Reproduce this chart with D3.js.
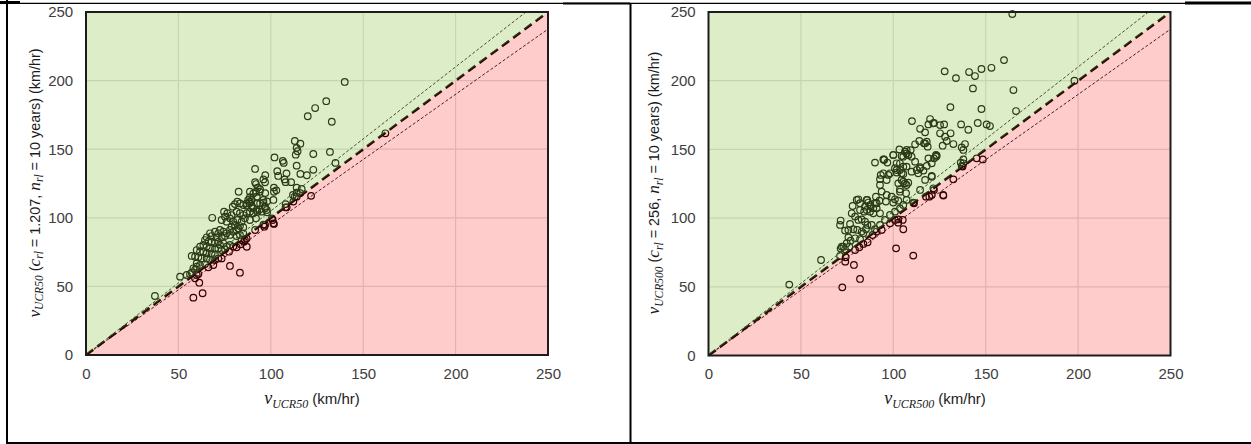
<!DOCTYPE html>
<html><head><meta charset="utf-8">
<script src="https://cdn.jsdelivr.net/npm/d3@7"></script>
<style>body{margin:0;background:#fff}svg{display:block}</style>
</head><body>
<script>
// ---------- DATA ----------
const tickValues = [0, 50, 100, 150, 200, 250];
const gridValues = [50, 100, 150, 200];
const ratioLines = [1.05, 0.95];

// Panel A: x = v_UCR50 (km/hr), y = v_UCR50 (c_rl = 1.207, n_rl = 10 years)
const panelA_points = [
[140,199],[130,185],[124,180],[120,174],[133,170],[113,156],[116,154],[114,151],[114.5,148.5],[113.5,146],[123,146.5],[132,148],[102,144],[106.5,141.5],[107,140],[114,138],[123,135],[135,140],[162,161.6],
[91.5,135.6],[97,131],[96,128],[103.5,134],[104,130.5],[108.5,132.4],[107.5,128],[108,126],[111,126],[116,132],[119.5,131],[114,122],[112,116.6],[114,118.3],[116.7,121],[113,115.4],[121.8,116],[116,118],
[91.5,126],[93,122],[92,119],[88.7,119],[94,119],[82.6,119],[101.7,122],[101.7,119],[103,120],[101.4,113],[108,110],[108,107.6],[97,118],[96,113],[98,112],[97,107],[98,104],[88.7,115],[88.4,110.6],[89.7,113],[87,109],[90.5,107],[94,106],[92.7,104.4],[92,99.6],[100.6,99.6],[101.4,96],[96,95],[96.5,93.5],[68.3,100],
[96.9,125.9],[92,124.6],[94.2,120.8],[90.6,117.8],[92.4,115.4],[80.6,110],[79.4,108.1],[81.9,111.8],[83.3,110.5],[85.1,109.3],[87.8,113],[86.9,110.5],[88.7,111.8],[89.7,108.6],[92.4,110.5],[94.2,110.5],[96,111],[96.9,108.1],[97.8,105.7],[95.1,104.5],[74.7,104.5],[76.5,103.3],[75.2,100.8],[78.8,102],[81.5,104.5],[83.3,103.3],[85.1,102],[86.9,103.3],[88.7,104.5],[90.6,103.3],[92.4,105.7],[73.4,98.4],[76.1,97.2],[77.9,99.6],[79.7,97.2],[81.9,98.4],[84.2,97.2],[86,99.6],[88.7,98.4],[78.8,93.5],[80.6,94.8],[82.4,92.3],[83.3,94],[85.1,93.1],[81.5,91.1],[77.9,91.1],[69.8,89.9],[71.6,88.7],[72.5,91.1],[74.3,89.9],[76.1,88.7],[77.9,87.5],[79.7,89.9],[73.4,85.8],[75.2,86.7],[70.7,85.8],[68,86.7],[65.3,85.8],[67.1,88.7],[81.5,86.7],[83.3,87.5],[85.1,88.7],[86.9,85],[86,83.8],[84.2,83.8],[64.4,83.8],[66.2,82.6],[68,82.6],[69.8,81.4],[71.6,82.6],[72.5,80.2],[74.3,81.4],[76.1,79],[77.9,80.2],[63.5,80.2],[61.7,79],[65.3,79],[67.1,77.7],[69.8,77.7],[71.6,77.7],[73.4,76.5],[75.2,77],[79.7,79],[81.5,78.5],[59.9,76.5],[61.7,75.3],[63.5,75.3],[65.3,74.1],[68,74.1],[69.8,72.9],[57.2,72.2],[59,71.7],[60.8,71.2],[62.6,70.4],[65.3,70.4],[67.1,69.2],[69.8,69.2],[59.9,66.8],[61.7,65.6],[64.4,66.3],[71.6,70.4],[58.1,63.2],[59.9,64.4],[57.2,60],[59,62],[54.5,58.3],[56.3,59],
[77.4,75.3],[73.4,70.4],[68.9,65.6],[66.2,63.9],[59.9,58.3],[77.9,64.9],[83.3,60],[58.1,41.8],[63.1,45],[61.3,52.7],[59,55.9],[60.8,59],[87,78.9],[85.5,82.6],[83.7,80.7],[91.5,91.1],[96.9,94.8],[101,98.4],[101.7,95.5],[108.6,107.6],[112.2,111.8],[114,115.4],
[50.9,57.1],[37.3,43]
];

// Panel B: x = v_UCR500 (km/hr), y = v_UCR500 (c_rl = 256, n_rl = 10 years)
const panelB_points = [
[164.4,248.5],[159.9,215],[153.1,209.4],[147.7,208.5],[141,206.3],[144.2,203.4],[133.9,201.9],[127.8,206.8],[143.1,194.4],[165,193.2],[198,200],[130.9,180.8],[147.7,179.4],[166.4,177.9],[110.1,170.6],[119.9,172.1],[119,168.2],[122,169.2],[114.5,165],[117.2,162.4],[125.3,167.7],[127.5,168.2],[136.7,168.2],[140.6,164.3],[145.7,169.2],[150.5,168.2],[152.3,167],[125.3,161.7],[131,161.7],[128,159.2],[128.9,156.1],[132.5,153.9],[126.7,152.7],[138.8,153.9],[137,151.5],[114.1,156.1],[117.2,154.4],[118.6,152],[111.8,153.7],[109.4,149.5],[103.3,150],[107.2,147.1],[100,145.9],[105.4,144.7],[123.5,145.4],[95,142.7],[145.1,143.5],[137.9,142.7],[121.6,169],
[148.4,142.7],[137.9,139.9],[137,137.9],[132.5,128.2],[127,116.8],[121.7,121.7],[120.8,116.8],
[72.4,49.6],[82,55.7],[78.7,65.9],[74,68.3],[74.2,71.5],[101.5,78],[110.8,72.7],[105.4,91.9],[86.1,82.4],[83.8,81.2],[81.6,78.8],[79.3,76.8],[93.7,91.4],[91,90.2],[88.8,87.7],[98.2,96.2],[100.9,98.7],[102.7,99.1],[105.1,98.7],[102.7,96.7],[111.2,110.8],[117.7,115.6],[119.5,115.6],[122,120.5],[127.1,116.4],[136.5,140.4],[137.5,137.5],[122,143.5],[123.1,146],[137.9,149.6],
[43.7,51.6],[60.9,69.5],[71.2,72.5],[71.5,77.8],[73,79.2],
[90.1,140.4],[95,142.3],[96.8,140.4],[100,146],[101.8,139.9],[104.5,145.2],[106.3,148.4],[108.1,146],[100.9,136.3],[103.6,135],[105.4,132.1],[107.2,137.5],[109.9,133.8],[114.5,137],[116.3,134.6],[118.1,138],[120.8,139.9],[123.1,144.7],[93.2,131.4],[94.6,132.6],[92.8,128.3],[98.2,132.6],[101.8,133.1],[104.5,127.8],[106.3,125.3],[108.1,125.8],[102.7,125.3],[114.5,120.5],[117.2,127.8],[120.8,130.7],[103.6,121],[109.9,144.7],[111.8,141.1],[119,143.5],
[81.1,113.7],[85.9,113.2],[86.5,111.3],[90.6,115.6],[93.7,119.3],[96.4,116.8],[99.1,115.6],[100.9,113.7],[102.7,112.7],[100,111.3],[96,112],[92.5,112.7],[90.1,110.8],[87.8,108.4],[85.6,105.9],[91,107.1],[92.8,103.5],[89.2,103.5],[87.4,104.7],[84.2,104.7],[82,105.9],[78,108.8],[77.5,103.5],[79.3,101.1],[81.1,98.7],[82.9,99.1],[84.7,97.4],[86,95],[85.2,91.9],[82.9,90.2],[80.5,91.4],[78.4,91.9],[76.6,95.7],[75.7,91.4],[73.9,90.9],[71.5,98.2],[71.2,95],[75.7,86],[76.9,83.6],[74.8,81.7],[72.1,79.2],[73.9,77.3],[76.2,79.2],[79.3,85.3],[82,84.6],[83.8,88.9],[88.3,95],[90.1,91.9],[92.8,95],[95.5,98.7],[98.2,102.3],[100.9,104.7],[103.6,107.1],[105.4,109.6],[107.2,113.2],[110.8,111.3],
[94.6,142.8],[107.2,149.6],[108.1,145.9],[116.6,154.4],[118.1,155.6],[103.6,139.9],[105.4,137.4],[101.8,135],[104.5,132.6],[97.3,131.4],[96.4,127.7],[92.8,124.1],[105.4,126.5],[107.2,124.1],[103.6,119.2],[106.9,118.1],[113.5,132.6],[114.4,136.2],[112.7,135],[120.8,130.1],[80.2,113.2],[82,110.8],[85.6,113.2],[84.7,108.3],[87.4,109.5],[89.2,107.1],[91,110.8]
];

// Axis title pieces: [text, style]  m = math italic, s = math subscript, t = plain
const panelA_ylabel = [["v","m"],["UCR50","s"],[" (","t"],["c","m"],["rl","s"],[" = 1.207, ","t"],["n","m"],["rl","s"],[" = 10 years) (km/hr)","t"]];
const panelA_xlabel = [["v","m"],["UCR50","s"],[" (km/hr)","t"]];
const panelB_ylabel = [["v","m"],["UCR500","s"],[" (","t"],["c","m"],["rl","s"],[" = 256, ","t"],["n","m"],["rl","s"],[" = 10 years) (km/hr)","t"]];
const panelB_xlabel = [["v","m"],["UCR500","s"],[" (km/hr)","t"]];

// ---------- DRAW ----------
const W = 1251, H = 444;
const svg = d3.select("body").append("svg").attr("width", W).attr("height", H);
const SANS = "'Liberation Sans', Arial, sans-serif";
const SERIF = "'Liberation Serif', 'DejaVu Serif', serif";

function writeLabel(textSel, parts, k) {
  parts.forEach(([t, s], i) => {
    const ts = textSel.append("tspan").text(t);
    if (s === "m") {
      ts.attr("font-family", SERIF).attr("font-style", "italic").attr("font-size", 18 * k);
    } else if (s === "s") {
      ts.attr("font-family", SERIF).attr("font-style", "italic").attr("font-size", 12 * k).attr("dy", 4 * k);
    } else {
      ts.attr("font-family", SANS).attr("font-size", 15 * k);
    }
    if (i > 0 && parts[i - 1][1] === "s") ts.attr("dy", -4 * k);
  });
}

function drawPanel(cfg) {
  const x = d3.scaleLinear().domain([0, 250]).range([cfg.l, cfg.r]);
  const y = d3.scaleLinear().domain([0, 250]).range([cfg.b, cfg.t]);
  const g = svg.append("g");
  const line = d3.line().x(d => x(d[0])).y(d => y(d[1]));

  g.selectAll(".gx").data(gridValues).join("line").attr("class", "gx")
    .attr("x1", d => x(d)).attr("x2", d => x(d)).attr("y1", cfg.t).attr("y2", cfg.b)
    .attr("stroke", "#dedede").attr("stroke-width", 1.2);
  g.selectAll(".gy").data(gridValues).join("line").attr("class", "gy")
    .attr("y1", d => y(d)).attr("y2", d => y(d)).attr("x1", cfg.l).attr("x2", cfg.r)
    .attr("stroke", "#dedede").attr("stroke-width", 1.2);

  g.selectAll("circle").data(cfg.points).join("circle")
    .attr("cx", d => x(d[0])).attr("cy", d => y(d[1])).attr("r", 3.3)
    .attr("fill", "none").attr("stroke", "#000").attr("stroke-width", 1.2);

  ratioLines.forEach(k => {
    const end = k > 1 ? [250 / k, 250] : [250, 250 * k];
    g.append("path").attr("d", line([[0, 0], end])).attr("fill", "none")
      .attr("stroke", "#262626").attr("stroke-width", 1).attr("stroke-dasharray", "3,2");
  });
  g.append("path").attr("d", line([[0, 0], [250, 250]])).attr("fill", "none")
    .attr("stroke", "#000").attr("stroke-width", 2.6).attr("stroke-dasharray", "9,5");

  g.append("path").attr("d", line([[0, 0], [0, 250], [250, 250]]) + "Z")
    .attr("fill", "rgb(138,195,72)").attr("fill-opacity", 0.3);
  g.append("path").attr("d", line([[0, 0], [250, 0], [250, 250]]) + "Z")
    .attr("fill", "rgb(255,0,0)").attr("fill-opacity", 0.2);

  g.append("rect").attr("x", cfg.l).attr("y", cfg.t).attr("width", cfg.r - cfg.l).attr("height", cfg.b - cfg.t)
    .attr("fill", "none").attr("stroke", "#1c1c1c").attr("stroke-width", 2);

  const ax = g.append("g").attr("transform", `translate(0,${cfg.b})`)
    .call(d3.axisBottom(x).tickValues(tickValues).tickSize(0).tickPadding(13.3));
  const ay = g.append("g").attr("transform", `translate(${cfg.l},0)`)
    .call(d3.axisLeft(y).tickValues(tickValues).tickSize(0).tickPadding(12.8));
  [ax, ay].forEach(a => {
    a.select(".domain").remove();
    a.selectAll("text").attr("font-family", SANS).attr("font-size", 15).attr("fill", "#404040");
  });

  const xt = g.append("text").attr("x", cfg.xtx).attr("y", 404).attr("text-anchor", "middle").attr("fill", "#1a1a1a");
  writeLabel(xt, cfg.xlabel, 1);
  const yt = g.append("text").attr("transform", `translate(${cfg.ytx},183) rotate(-90)`)
    .attr("text-anchor", "middle").attr("fill", "#1a1a1a");
  writeLabel(yt, cfg.ylabel, 0.96);
}

drawPanel({ l: 86, r: 548, t: 12, b: 355, points: panelA_points, xlabel: panelA_xlabel, ylabel: panelA_ylabel, xtx: 312, ytx: 39.5 });
drawPanel({ l: 708.5, r: 1170.5, t: 12, b: 355.5, points: panelB_points, xlabel: panelB_xlabel, ylabel: panelB_ylabel, xtx: 935, ytx: 659 });

const frame = svg.append("g").attr("stroke", "#000");
frame.append("line").attr("x1", 7).attr("x2", 7).attr("y1", 0).attr("y2", 444).attr("stroke-width", 2);
frame.append("line").attr("x1", 630.5).attr("x2", 630.5).attr("y1", 3).attr("y2", 444).attr("stroke-width", 2);
frame.append("line").attr("x1", 6).attr("x2", 1251).attr("y1", 443).attr("y2", 443).attr("stroke-width", 2);
frame.append("line").attr("x1", 7).attr("x2", 1251).attr("y1", 3.3).attr("y2", 3.3).attr("stroke-width", 1.3);
frame.append("line").attr("x1", 0).attr("x2", 20).attr("y1", 2.5).attr("y2", 2.5).attr("stroke-width", 3);
frame.append("line").attr("x1", 563).attr("x2", 630).attr("y1", 3.5).attr("y2", 3.5).attr("stroke-width", 2.2);
frame.append("line").attr("x1", 1185).attr("x2", 1251).attr("y1", 3).attr("y2", 3).attr("stroke-width", 3);
</script>
</body></html>
